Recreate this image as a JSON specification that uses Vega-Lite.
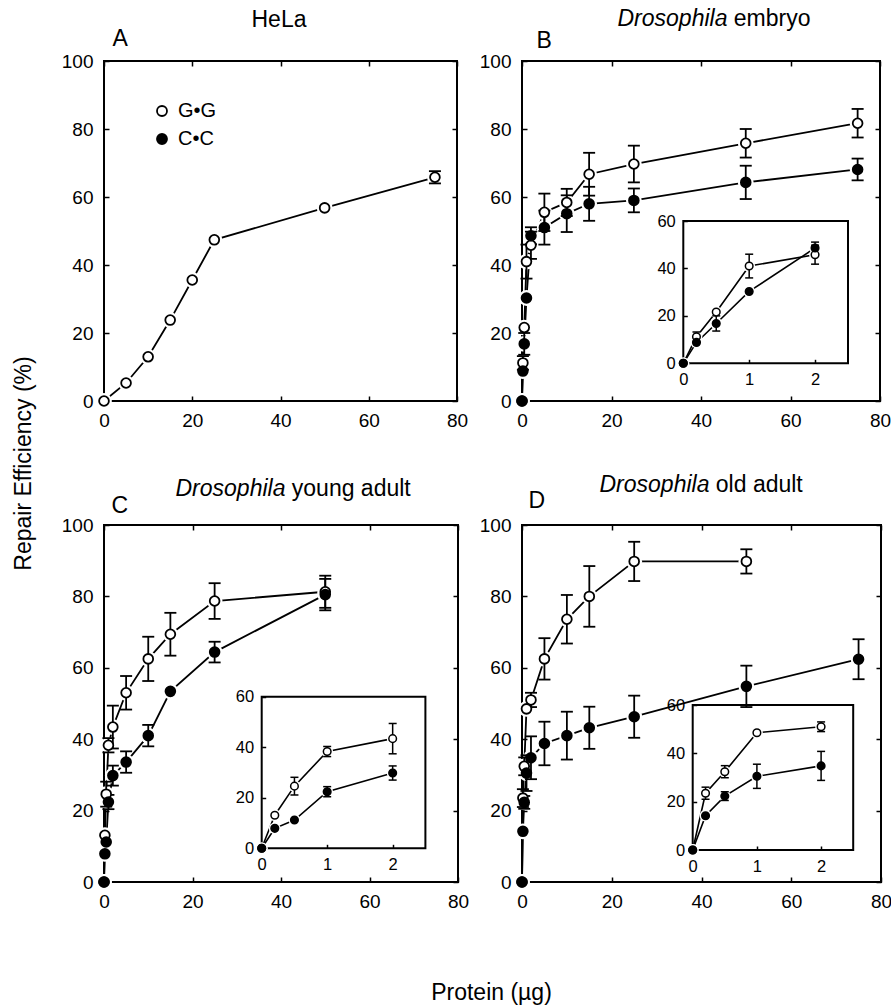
{
"$schema": "https://vega.github.io/schema/vega-lite/v6.json",
"autosize": {"type": "none"},
"padding": {"left": 104, "top": 61, "right": 787, "bottom": 947},
"background": "white",
"config": {
  "font": "Liberation Sans",
  "view": {"stroke": "black", "strokeWidth": 2},
  "axis": {"grid": false, "domain": false, "ticks": true, "tickColor": "black", "tickOpacity": 1, "tickWidth": 1.5, "tickSize": 5, "offset": -5, "zindex": 1, "labelColor": "black", "labelFont": "Liberation Sans", "labelFontSize": 19, "labelFlush": false, "labelOverlap": false, "titleFont": "Liberation Sans", "titleFontSize": 23, "titleFontWeight": "normal", "titleColor": "black", "titleBaseline": "alphabetic", "titleAlign": "left", "titlePadding": 0},
  "axisX": {"labelPadding": 10.5},
  "axisY": {"labelPadding": 11}
},
"datasets": {"d": [
  {"p":"A","s":"G•G","x":0,"v":0,"e":0},{"p":"A","s":"G•G","x":5,"v":5.3,"e":0},{"p":"A","s":"G•G","x":10,"v":13,"e":0},{"p":"A","s":"G•G","x":15,"v":23.8,"e":0},{"p":"A","s":"G•G","x":20,"v":35.6,"e":0},{"p":"A","s":"G•G","x":25,"v":47.4,"e":0},{"p":"A","s":"G•G","x":50,"v":56.8,"e":0},{"p":"A","s":"G•G","x":75,"v":65.8,"e":1.8},
  {"p":"B","s":"G•G","x":0,"v":0,"e":0},{"p":"B","s":"G•G","x":0.2,"v":11.2,"e":2},{"p":"B","s":"G•G","x":0.5,"v":21.6,"e":0},{"p":"B","s":"G•G","x":1,"v":41,"e":5},{"p":"B","s":"G•G","x":2,"v":45.8,"e":4},{"p":"B","s":"G•G","x":5,"v":55.5,"e":5.5},{"p":"B","s":"G•G","x":10,"v":58.4,"e":4},{"p":"B","s":"G•G","x":15,"v":66.7,"e":6.3},{"p":"B","s":"G•G","x":25,"v":69.7,"e":5.4},{"p":"B","s":"G•G","x":50,"v":75.8,"e":4.2},{"p":"B","s":"G•G","x":75,"v":81.7,"e":4.2},
  {"p":"B","s":"C•C","x":0,"v":0,"e":0},{"p":"B","s":"C•C","x":0.2,"v":8.8,"e":0},{"p":"B","s":"C•C","x":0.5,"v":16.8,"e":3.2},{"p":"B","s":"C•C","x":1,"v":30.3,"e":0},{"p":"B","s":"C•C","x":2,"v":48.6,"e":2.5},{"p":"B","s":"C•C","x":5,"v":51,"e":5},{"p":"B","s":"C•C","x":10,"v":55.1,"e":5.4},{"p":"B","s":"C•C","x":15,"v":58,"e":5},{"p":"B","s":"C•C","x":25,"v":59,"e":3.5},{"p":"B","s":"C•C","x":50,"v":64.3,"e":4.9},{"p":"B","s":"C•C","x":75,"v":68.1,"e":3.2},
  {"p":"C","s":"G•G","x":0,"v":0,"e":0},{"p":"C","s":"G•G","x":0.2,"v":13.1,"e":0},{"p":"C","s":"G•G","x":0.5,"v":24.6,"e":3.5},{"p":"C","s":"G•G","x":1,"v":38.3,"e":2},{"p":"C","s":"G•G","x":2,"v":43.4,"e":6},{"p":"C","s":"G•G","x":5,"v":53,"e":4.7},{"p":"C","s":"G•G","x":10,"v":62.5,"e":6.2},{"p":"C","s":"G•G","x":15,"v":69.4,"e":6},{"p":"C","s":"G•G","x":25,"v":78.7,"e":5},{"p":"C","s":"G•G","x":50,"v":81.3,"e":4.5},
  {"p":"C","s":"C•C","x":0,"v":0,"e":0},{"p":"C","s":"C•C","x":0.2,"v":7.9,"e":0},{"p":"C","s":"C•C","x":0.5,"v":11.2,"e":0},{"p":"C","s":"C•C","x":1,"v":22.4,"e":2},{"p":"C","s":"C•C","x":2,"v":29.8,"e":2.8},{"p":"C","s":"C•C","x":5,"v":33.6,"e":3},{"p":"C","s":"C•C","x":10,"v":41,"e":3},{"p":"C","s":"C•C","x":15,"v":53.4,"e":0},{"p":"C","s":"C•C","x":25,"v":64.4,"e":2.9},{"p":"C","s":"C•C","x":50,"v":80.5,"e":4.4},
  {"p":"D","s":"G•G","x":0,"v":0,"e":0},{"p":"D","s":"G•G","x":0.2,"v":23.5,"e":2.5},{"p":"D","s":"G•G","x":0.5,"v":32.4,"e":2.5},{"p":"D","s":"G•G","x":1,"v":48.5,"e":0},{"p":"D","s":"G•G","x":2,"v":51,"e":2},{"p":"D","s":"G•G","x":5,"v":62.5,"e":5.8},{"p":"D","s":"G•G","x":10,"v":73.6,"e":6.8},{"p":"D","s":"G•G","x":15,"v":80,"e":8.5},{"p":"D","s":"G•G","x":25,"v":89.8,"e":5.5},{"p":"D","s":"G•G","x":50,"v":89.8,"e":3.4},
  {"p":"D","s":"C•C","x":0,"v":0,"e":0},{"p":"D","s":"C•C","x":0.2,"v":14.2,"e":0},{"p":"D","s":"C•C","x":0.5,"v":22.3,"e":1.8},{"p":"D","s":"C•C","x":1,"v":30.5,"e":5},{"p":"D","s":"C•C","x":2,"v":34.8,"e":6},{"p":"D","s":"C•C","x":5,"v":38.8,"e":6.1},{"p":"D","s":"C•C","x":10,"v":41,"e":6.7},{"p":"D","s":"C•C","x":15,"v":43.2,"e":5.9},{"p":"D","s":"C•C","x":25,"v":46.3,"e":5.9},{"p":"D","s":"C•C","x":50,"v":54.8,"e":5.8},{"p":"D","s":"C•C","x":75,"v":62.4,"e":5.6}
]},
"columns": 2,
"align": "each",
"bounds": "flush",
"spacing": {"row": 124, "column": 64},
"resolve": {"scale": {"fill": "independent"}, "legend": {"fill": "independent"}},
"concat": [
{
  "width": 353, "height": 340,
  "data": {"name": "d"},
  "transform": [{"filter": "datum.p == 'A'"}],
  "layer": [
    {"mark": {"type": "line", "color": "black", "strokeWidth": 1.8},
     "encoding": {
       "x": {"field": "x", "type": "quantitative", "scale": {"domain": [0, 80], "nice": false}, "axis": {"orient": "bottom", "values": [0,20,40,60,80], "title": null}},
       "y": {"field": "v", "type": "quantitative", "scale": {"domain": [0, 100], "nice": false}, "axis": {"orient": "left", "values": [0,20,40,60,80,100], "title": "Repair Efficiency (%)", "titleX": -86, "titleY": 402, "titleAngle": -90, "titleAlign": "center", "titleBaseline": "middle"}},
       "detail": {"field": "s"}}},
    {"mark": {"type": "point", "shape": "circle", "size": 250, "filled": true, "color": "white", "opacity": 1},
     "encoding": {"x": {"field": "x", "type": "quantitative", "axis": null}, "y": {"field": "v", "type": "quantitative", "axis": null}}},
    {"transform": [{"filter": "datum.e > 0"}],
     "mark": {"type": "errorbar", "color": "black", "opacity": 1, "ticks": {"size": 12, "thickness": 1.8, "color": "black", "opacity": 1}, "rule": {"strokeWidth": 1.8, "color": "black", "opacity": 1}},
     "encoding": {"x": {"field": "x", "type": "quantitative", "axis": null}, "y": {"field": "v", "type": "quantitative", "axis": null}, "yError": {"field": "e"}}},
    {"mark": {"type": "point", "shape": "circle", "size": 95, "stroke": "black", "strokeWidth": 1.8, "opacity": 1},
     "encoding": {
       "x": {"field": "x", "type": "quantitative", "axis": {"orient": "top", "labels": false, "values": [0,20,40,60,80], "title": "HeLa", "titleX": 147, "titleY": -40}},
       "y": {"field": "v", "type": "quantitative", "axis": {"orient": "right", "labels": false, "values": [0,20,40,60,80,100], "title": "A", "titleX": -340, "titleY": -16, "titleAngle": 0}},
       "fill": {"field": "s", "type": "nominal", "scale": {"domain": ["G•G", "C•C"], "range": ["white", "black"]},
         "legend": {"title": null, "orient": "none", "legendX": 48, "legendY": 40, "symbolType": "circle", "symbolSize": 100, "symbolStrokeColor": "black", "symbolStrokeWidth": 1.8, "labelFontSize": 20, "labelFont": "Liberation Sans", "labelColor": "black", "rowPadding": 8, "labelOffset": 6}}}}
  ],
  "resolve": {"axis": {"x": "independent", "y": "independent"}}
},
{
  "width": 358, "height": 340,
  "layer": [
    {
      "data": {"name": "d"},
      "transform": [{"filter": "datum.p == 'B'"}],
      "layer": [
        {"mark": {"type": "line", "color": "black", "strokeWidth": 1.8},
         "encoding": {
           "x": {"field": "x", "type": "quantitative", "scale": {"domain": [0, 80], "nice": false}, "axis": {"orient": "bottom", "values": [0,20,40,60,80], "title": null}},
           "y": {"field": "v", "type": "quantitative", "scale": {"domain": [0, 100], "nice": false}, "axis": {"orient": "left", "values": [0,20,40,60,80,100], "title": "B", "titleX": 9, "titleY": -14, "titleAngle": 0}},
           "detail": {"field": "s"}}},
        {"mark": {"type": "point", "shape": "circle", "size": 250, "filled": true, "color": "white", "opacity": 1},
         "encoding": {"x": {"field": "x", "type": "quantitative", "axis": null}, "y": {"field": "v", "type": "quantitative", "axis": null}}},
        {"transform": [{"filter": "datum.e > 0"}],
         "mark": {"type": "errorbar", "color": "black", "opacity": 1, "ticks": {"size": 12, "thickness": 1.8, "color": "black", "opacity": 1}, "rule": {"strokeWidth": 1.8, "color": "black", "opacity": 1}},
         "encoding": {"x": {"field": "x", "type": "quantitative", "axis": null}, "y": {"field": "v", "type": "quantitative", "axis": null}, "yError": {"field": "e"}}},
        {"mark": {"type": "point", "shape": "circle", "size": 95, "stroke": "black", "strokeWidth": 1.8, "opacity": 1},
         "encoding": {
           "x": {"field": "x", "type": "quantitative", "axis": {"orient": "top", "labels": false, "values": [0,20,40,60,80], "title": "Drosophila", "titleFontStyle": "italic", "titleX": 95, "titleY": -41}},
           "y": {"field": "v", "type": "quantitative", "axis": {"orient": "right", "labels": false, "values": [0,20,40,60,80,100], "title": "embryo", "titleX": -141.7, "titleY": -36, "titleAngle": 0}},
           "fill": {"field": "s", "type": "nominal", "scale": {"domain": ["G•G", "C•C"], "range": ["white", "black"]}, "legend": null}}}
      ],
      "resolve": {"axis": {"x": "independent", "y": "independent"}}
    },
    {
      "layer": [
        {"data": {"values": [{}]},
         "mark": {"type": "rect", "filled": false, "stroke": "black", "strokeWidth": 2},
         "encoding": {
           "x": {"datum": 0, "type": "quantitative", "scale": {"domain": [0, 2.5], "range": [161.3, 326], "nice": false}, "axis": {"orient": "bottom", "offset": -41.7, "values": [0,1,2], "title": null, "tickSize": 4, "labelFontSize": 16.5, "labelPadding": 8}},
           "x2": {"datum": 2.5},
           "y": {"datum": 0, "type": "quantitative", "scale": {"domain": [0, 60], "range": [302.3, 160], "nice": false}, "axis": {"orient": "left", "offset": -165.3, "values": [0,20,40,60], "title": null, "tickSize": 4, "labelFontSize": 16.5, "labelPadding": 8}},
           "y2": {"datum": 60}}},
        {"data": {"name": "d"},
         "transform": [{"filter": "datum.p == 'B' && datum.x <= 2.5"}],
         "layer": [
           {"mark": {"type": "line", "color": "black", "strokeWidth": 1.6},
            "encoding": {
              "x": {"field": "x", "type": "quantitative", "axis": {"orient": "top", "offset": -164, "labels": false, "values": [0,1,2], "title": null, "tickSize": 4}},
              "y": {"field": "v", "type": "quantitative", "axis": {"orient": "right", "offset": -36, "labels": false, "values": [0,20,40,60], "title": null, "tickSize": 4}},
              "detail": {"field": "s"}}},
           {"mark": {"type": "point", "shape": "circle", "size": 140, "filled": true, "color": "white", "opacity": 1},
            "encoding": {"x": {"field": "x", "type": "quantitative", "axis": null}, "y": {"field": "v", "type": "quantitative", "axis": null}}},
           {"transform": [{"filter": "datum.e > 0"}],
            "mark": {"type": "errorbar", "color": "black", "opacity": 1, "ticks": {"size": 8, "thickness": 1.5, "color": "black", "opacity": 1}, "rule": {"strokeWidth": 1.5, "color": "black", "opacity": 1}},
            "encoding": {"x": {"field": "x", "type": "quantitative", "axis": null}, "y": {"field": "v", "type": "quantitative", "axis": null}, "yError": {"field": "e"}}},
           {"mark": {"type": "point", "shape": "circle", "size": 58, "stroke": "black", "strokeWidth": 1.5, "opacity": 1},
            "encoding": {"x": {"field": "x", "type": "quantitative", "axis": null}, "y": {"field": "v", "type": "quantitative", "axis": null},
              "fill": {"field": "s", "type": "nominal", "scale": {"domain": ["G•G", "C•C"], "range": ["white", "black"]}, "legend": null}}}
         ]}
      ],
      "resolve": {"axis": {"x": "independent", "y": "independent"}}
    }
  ],
  "resolve": {"scale": {"x": "independent", "y": "independent"}, "axis": {"x": "independent", "y": "independent"}}
},
{
  "width": 354, "height": 357,
  "layer": [
    {
      "data": {"name": "d"},
      "transform": [{"filter": "datum.p == 'C'"}],
      "layer": [
        {"mark": {"type": "line", "color": "black", "strokeWidth": 1.8},
         "encoding": {
           "x": {"field": "x", "type": "quantitative", "scale": {"domain": [0, 80], "nice": false}, "axis": {"orient": "bottom", "values": [0,20,40,60,80], "title": "Protein (µg)", "titleX": 387, "titleY": 115, "titleAlign": "center", "titleBaseline": "middle"}},
           "y": {"field": "v", "type": "quantitative", "scale": {"domain": [0, 100], "nice": false}, "axis": {"orient": "left", "values": [0,20,40,60,80,100], "title": "C", "titleX": 2, "titleY": -13, "titleAngle": 0}},
           "detail": {"field": "s"}}},
        {"mark": {"type": "point", "shape": "circle", "size": 250, "filled": true, "color": "white", "opacity": 1},
         "encoding": {"x": {"field": "x", "type": "quantitative", "axis": null}, "y": {"field": "v", "type": "quantitative", "axis": null}}},
        {"transform": [{"filter": "datum.e > 0"}],
         "mark": {"type": "errorbar", "color": "black", "opacity": 1, "ticks": {"size": 12, "thickness": 1.8, "color": "black", "opacity": 1}, "rule": {"strokeWidth": 1.8, "color": "black", "opacity": 1}},
         "encoding": {"x": {"field": "x", "type": "quantitative", "axis": null}, "y": {"field": "v", "type": "quantitative", "axis": null}, "yError": {"field": "e"}}},
        {"mark": {"type": "point", "shape": "circle", "size": 95, "stroke": "black", "strokeWidth": 1.8, "opacity": 1},
         "encoding": {
           "x": {"field": "x", "type": "quantitative", "axis": {"orient": "top", "labels": false, "values": [0,20,40,60,80], "title": "Drosophila", "titleFontStyle": "italic", "titleX": 71, "titleY": -35}},
           "y": {"field": "v", "type": "quantitative", "axis": {"orient": "right", "labels": false, "values": [0,20,40,60,80,100], "title": "young adult", "titleX": -161.7, "titleY": -30, "titleAngle": 0}},
           "fill": {"field": "s", "type": "nominal", "scale": {"domain": ["G•G", "C•C"], "range": ["white", "black"]}, "legend": null}}}
      ],
      "resolve": {"axis": {"x": "independent", "y": "independent"}}
    },
    {
      "layer": [
        {"data": {"values": [{}]},
         "mark": {"type": "rect", "filled": false, "stroke": "black", "strokeWidth": 2},
         "encoding": {
           "x": {"datum": 0, "type": "quantitative", "scale": {"domain": [0, 2.5], "range": [157.7, 321.4], "nice": false}, "axis": {"orient": "bottom", "offset": -37.7, "values": [0,1,2], "title": null, "tickSize": 4, "labelFontSize": 16.5, "labelPadding": 8}},
           "x2": {"datum": 2.5},
           "y": {"datum": 0, "type": "quantitative", "scale": {"domain": [0, 60], "range": [323.3, 171.7], "nice": false}, "axis": {"orient": "left", "offset": -161.7, "values": [0,20,40,60], "title": null, "tickSize": 4, "labelFontSize": 16.5, "labelPadding": 8}},
           "y2": {"datum": 60}}},
        {"data": {"name": "d"},
         "transform": [{"filter": "datum.p == 'C' && datum.x <= 2.5"}],
         "layer": [
           {"mark": {"type": "line", "color": "black", "strokeWidth": 1.6},
            "encoding": {
              "x": {"field": "x", "type": "quantitative", "axis": {"orient": "top", "offset": -175.7, "labels": false, "values": [0,1,2], "title": null, "tickSize": 4}},
              "y": {"field": "v", "type": "quantitative", "axis": {"orient": "right", "offset": -36.6, "labels": false, "values": [0,20,40,60], "title": null, "tickSize": 4}},
              "detail": {"field": "s"}}},
           {"mark": {"type": "point", "shape": "circle", "size": 140, "filled": true, "color": "white", "opacity": 1},
            "encoding": {"x": {"field": "x", "type": "quantitative", "axis": null}, "y": {"field": "v", "type": "quantitative", "axis": null}}},
           {"transform": [{"filter": "datum.e > 0"}],
            "mark": {"type": "errorbar", "color": "black", "opacity": 1, "ticks": {"size": 8, "thickness": 1.5, "color": "black", "opacity": 1}, "rule": {"strokeWidth": 1.5, "color": "black", "opacity": 1}},
            "encoding": {"x": {"field": "x", "type": "quantitative", "axis": null}, "y": {"field": "v", "type": "quantitative", "axis": null}, "yError": {"field": "e"}}},
           {"mark": {"type": "point", "shape": "circle", "size": 58, "stroke": "black", "strokeWidth": 1.5, "opacity": 1},
            "encoding": {"x": {"field": "x", "type": "quantitative", "axis": null}, "y": {"field": "v", "type": "quantitative", "axis": null},
              "fill": {"field": "s", "type": "nominal", "scale": {"domain": ["G•G", "C•C"], "range": ["white", "black"]}, "legend": null}}}
         ]}
      ],
      "resolve": {"axis": {"x": "independent", "y": "independent"}}
    }
  ],
  "resolve": {"scale": {"x": "independent", "y": "independent"}, "axis": {"x": "independent", "y": "independent"}}
},
{
  "width": 359, "height": 357,
  "layer": [
    {
      "data": {"name": "d"},
      "transform": [{"filter": "datum.p == 'D'"}],
      "layer": [
        {"mark": {"type": "line", "color": "black", "strokeWidth": 1.8},
         "encoding": {
           "x": {"field": "x", "type": "quantitative", "scale": {"domain": [0, 80], "nice": false}, "axis": {"orient": "bottom", "values": [0,20,40,60,80], "title": null}},
           "y": {"field": "v", "type": "quantitative", "scale": {"domain": [0, 100], "nice": false}, "axis": {"orient": "left", "values": [0,20,40,60,80,100], "title": "D", "titleX": 1, "titleY": -18, "titleAngle": 0}},
           "detail": {"field": "s"}}},
        {"mark": {"type": "point", "shape": "circle", "size": 250, "filled": true, "color": "white", "opacity": 1},
         "encoding": {"x": {"field": "x", "type": "quantitative", "axis": null}, "y": {"field": "v", "type": "quantitative", "axis": null}}},
        {"transform": [{"filter": "datum.e > 0"}],
         "mark": {"type": "errorbar", "color": "black", "opacity": 1, "ticks": {"size": 12, "thickness": 1.8, "color": "black", "opacity": 1}, "rule": {"strokeWidth": 1.8, "color": "black", "opacity": 1}},
         "encoding": {"x": {"field": "x", "type": "quantitative", "axis": null}, "y": {"field": "v", "type": "quantitative", "axis": null}, "yError": {"field": "e"}}},
        {"mark": {"type": "point", "shape": "circle", "size": 95, "stroke": "black", "strokeWidth": 1.8, "opacity": 1},
         "encoding": {
           "x": {"field": "x", "type": "quantitative", "axis": {"orient": "top", "labels": false, "values": [0,20,40,60,80], "title": "Drosophila", "titleFontStyle": "italic", "titleX": 77, "titleY": -39}},
           "y": {"field": "v", "type": "quantitative", "axis": {"orient": "right", "labels": false, "values": [0,20,40,60,80,100], "title": "old adult", "titleX": -160.7, "titleY": -34, "titleAngle": 0}},
           "fill": {"field": "s", "type": "nominal", "scale": {"domain": ["G•G", "C•C"], "range": ["white", "black"]}, "legend": null}}}
      ],
      "resolve": {"axis": {"x": "independent", "y": "independent"}}
    },
    {
      "layer": [
        {"data": {"values": [{}]},
         "mark": {"type": "rect", "filled": false, "stroke": "black", "strokeWidth": 2},
         "encoding": {
           "x": {"datum": 0, "type": "quantitative", "scale": {"domain": [0, 2.5], "range": [170.7, 331.2], "nice": false}, "axis": {"orient": "bottom", "offset": -36, "values": [0,1,2], "title": null, "tickSize": 4, "labelFontSize": 16.5, "labelPadding": 8}},
           "x2": {"datum": 2.5},
           "y": {"datum": 0, "type": "quantitative", "scale": {"domain": [0, 60], "range": [325, 180], "nice": false}, "axis": {"orient": "left", "offset": -174.7, "values": [0,20,40,60], "title": null, "tickSize": 4, "labelFontSize": 16.5, "labelPadding": 8}},
           "y2": {"datum": 60}}},
        {"data": {"name": "d"},
         "transform": [{"filter": "datum.p == 'D' && datum.x <= 2.5"}],
         "layer": [
           {"mark": {"type": "line", "color": "black", "strokeWidth": 1.6},
            "encoding": {
              "x": {"field": "x", "type": "quantitative", "axis": {"orient": "top", "offset": -184, "labels": false, "values": [0,1,2], "title": null, "tickSize": 4}},
              "y": {"field": "v", "type": "quantitative", "axis": {"orient": "right", "offset": -31.8, "labels": false, "values": [0,20,40,60], "title": null, "tickSize": 4}},
              "detail": {"field": "s"}}},
           {"mark": {"type": "point", "shape": "circle", "size": 140, "filled": true, "color": "white", "opacity": 1},
            "encoding": {"x": {"field": "x", "type": "quantitative", "axis": null}, "y": {"field": "v", "type": "quantitative", "axis": null}}},
           {"transform": [{"filter": "datum.e > 0"}],
            "mark": {"type": "errorbar", "color": "black", "opacity": 1, "ticks": {"size": 8, "thickness": 1.5, "color": "black", "opacity": 1}, "rule": {"strokeWidth": 1.5, "color": "black", "opacity": 1}},
            "encoding": {"x": {"field": "x", "type": "quantitative", "axis": null}, "y": {"field": "v", "type": "quantitative", "axis": null}, "yError": {"field": "e"}}},
           {"mark": {"type": "point", "shape": "circle", "size": 58, "stroke": "black", "strokeWidth": 1.5, "opacity": 1},
            "encoding": {"x": {"field": "x", "type": "quantitative", "axis": null}, "y": {"field": "v", "type": "quantitative", "axis": null},
              "fill": {"field": "s", "type": "nominal", "scale": {"domain": ["G•G", "C•C"], "range": ["white", "black"]}, "legend": null}}}
         ]}
      ],
      "resolve": {"axis": {"x": "independent", "y": "independent"}}
    }
  ],
  "resolve": {"scale": {"x": "independent", "y": "independent"}, "axis": {"x": "independent", "y": "independent"}}
}
]
}
